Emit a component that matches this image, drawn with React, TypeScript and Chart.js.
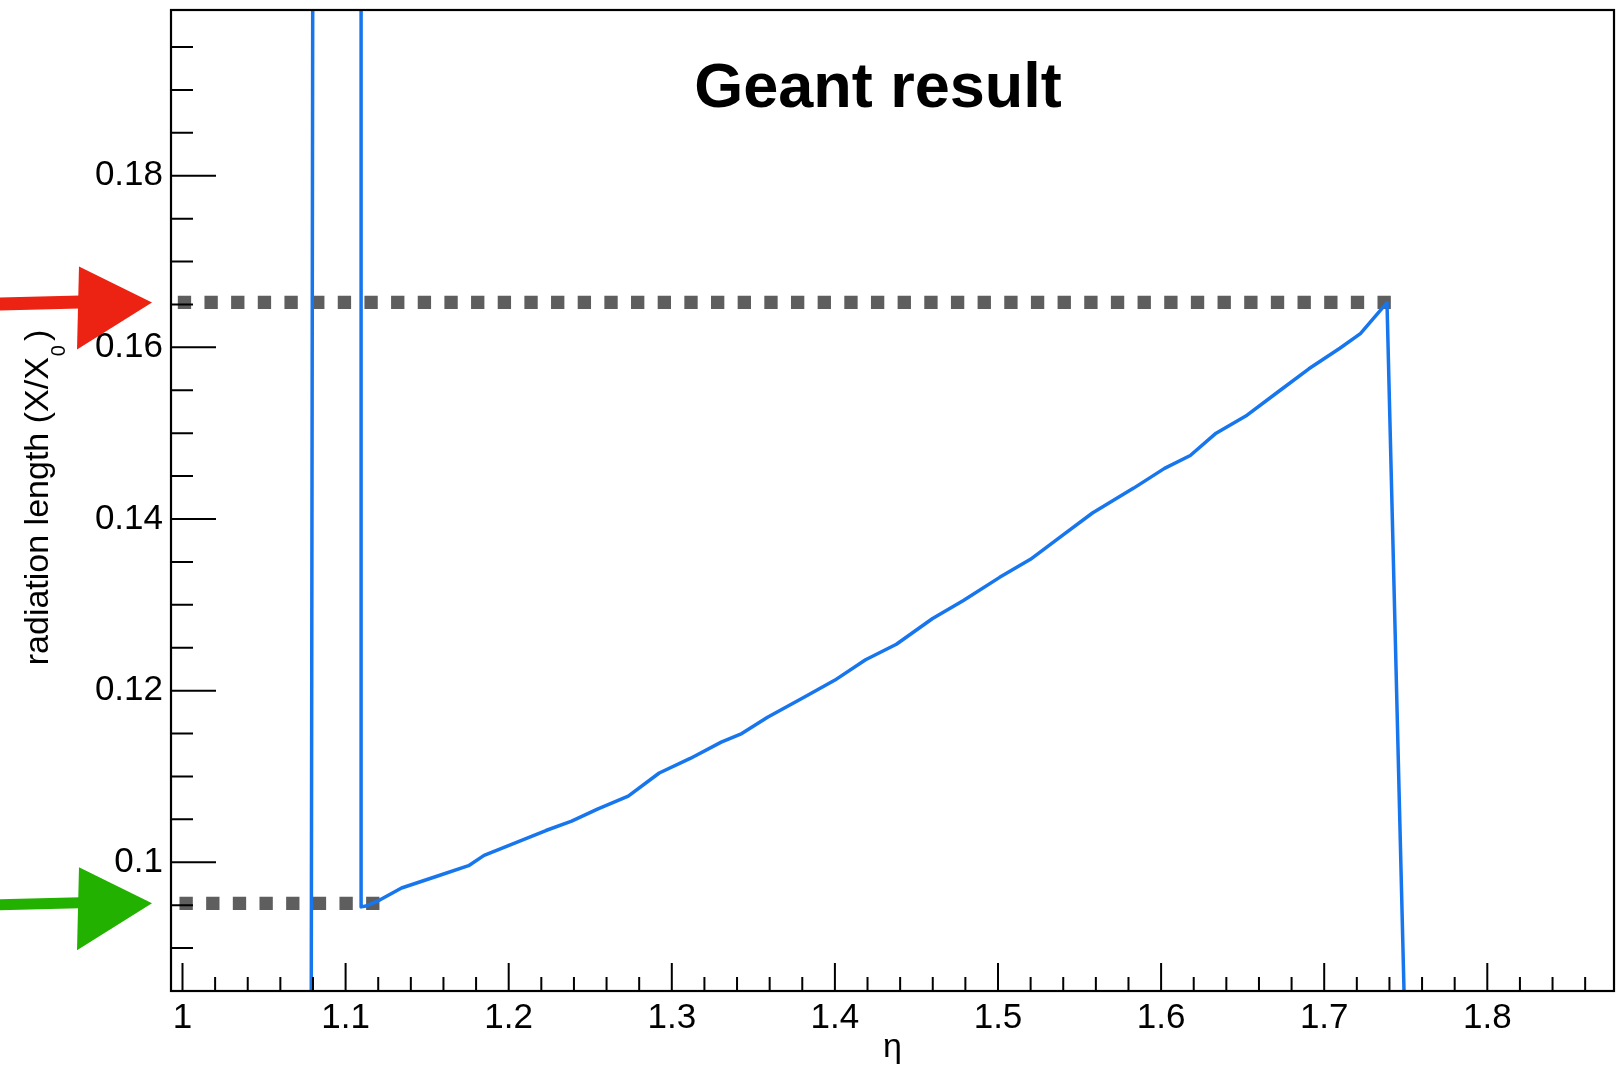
import React, { useEffect, useRef } from 'react';
import { Chart, registerables } from 'chart.js';

Chart.register(...registerables);

// ---- data ----
const etaValues = [
  0.99, 1.0783, 1.0803, 1.1095, 1.1095, 1.1125, 1.1209, 1.1343, 1.1564, 1.1754,
  1.1849, 1.2006, 1.2228, 1.2386, 1.2544, 1.2733, 1.2923, 1.3113, 1.3303, 1.3429,
  1.3587, 1.3808, 1.3998, 1.4188, 1.4377, 1.4599, 1.4788, 1.501, 1.5199, 1.5389,
  1.5579, 1.5832, 1.6021, 1.6179, 1.6337, 1.6527, 1.6716, 1.6906, 1.7096, 1.7222,
  1.7385, 1.76, 1.87,
];
const radLengthValues = [
  0.0, 0.0, 0.26, 0.26, 0.0948, 0.0949, 0.0956, 0.097, 0.0984, 0.0996,
  0.1008, 0.102, 0.1037, 0.1048, 0.1062, 0.1077, 0.1104, 0.1121, 0.114, 0.115,
  0.1169, 0.1192, 0.1212, 0.1236, 0.1254, 0.1284, 0.1305, 0.1332, 0.1353, 0.138,
  0.1407, 0.1436, 0.1459, 0.1474, 0.15, 0.1521, 0.1548, 0.1575, 0.1599, 0.1616,
  0.1652, 0.0, 0.0,
];
const upperRefEta = [0.99712, 1.7415];
const upperRefValue = [0.16524, 0.16524];
const lowerRefEta = [0.99816, 1.12086];
const lowerRefValue = [0.09522, 0.09522];

const xTickValues = [1, 1.1, 1.2, 1.3, 1.4, 1.5, 1.6, 1.7, 1.8];
const yTickValues = [0.1, 0.12, 0.14, 0.16, 0.18];

const X_MIN = 0.99295;
const X_MAX = 1.87768;
const Y_MIN = 0.085;
const Y_MAX = 0.19931;

const TITLE = 'Geant result';
const X_TITLE = 'η';
const Y_TITLE_MAIN = 'radiation length (X/X';
const Y_TITLE_SUB = '0';
const Y_TITLE_END = ')';

const FAMILY = '"Liberation Sans", Arial, Helvetica, sans-serif';
const BLUE = '#1776ee';
const GRAY = '#5e5e5e';

const fmt = (v: number | string) => String(parseFloat(Number(v).toFixed(4)));

const decorPlugin = {
  id: 'decor',
  afterDatasetsDraw(chart: any) {
    const { ctx, chartArea: a, scales } = chart;
    const x = scales.x;
    const y = scales.y;
    ctx.save();
    ctx.strokeStyle = '#000';
    ctx.lineWidth = 2;
    ctx.beginPath();
    // x ticks (every 0.02)
    for (let i = 0; i <= 43; i++) {
      const v = 1 + i * 0.02;
      const px = x.getPixelForValue(v);
      if (px < a.left || px > a.right) continue;
      const major = xTickValues.some((t) => Math.abs(t - v) < 1e-6);
      ctx.moveTo(px, a.bottom);
      ctx.lineTo(px, a.bottom - (major ? 28 : 14));
    }
    // y ticks (every 0.005)
    for (let i = 1; i <= 22; i++) {
      const v = 0.085 + i * 0.005;
      const py = y.getPixelForValue(v);
      if (py < a.top || py > a.bottom) continue;
      const major = yTickValues.some((t) => Math.abs(t - v) < 1e-6);
      ctx.moveTo(a.left, py);
      ctx.lineTo(a.left + (major ? 45 : 22), py);
    }
    ctx.stroke();
    ctx.lineWidth = 2.2;
    ctx.strokeRect(a.left, a.top, a.right - a.left, a.bottom - a.top);
    ctx.restore();
  },
  afterDraw(chart: any) {
    const { ctx, scales } = chart;
    const y = scales.y;
    ctx.save();
    // title
    ctx.fillStyle = '#000';
    ctx.font = `bold 63px ${FAMILY}`;
    ctx.textAlign = 'center';
    ctx.textBaseline = 'alphabetic';
    ctx.fillText(TITLE, 878, 107);

    // y-axis title (rotated) with subscript
    ctx.save();
    ctx.translate(48, 497.5);
    ctx.rotate(-Math.PI / 2);
    ctx.textAlign = 'left';
    ctx.font = `34px ${FAMILY}`;
    const wMain = ctx.measureText(Y_TITLE_MAIN).width;
    ctx.font = `20px ${FAMILY}`;
    const wSub = ctx.measureText(Y_TITLE_SUB).width;
    ctx.font = `34px ${FAMILY}`;
    const wEnd = ctx.measureText(Y_TITLE_END).width;
    const total = wMain + wSub + 5 + wEnd;
    const sx = -total / 2;
    ctx.fillText(Y_TITLE_MAIN, sx, 0);
    ctx.font = `20px ${FAMILY}`;
    ctx.fillText(Y_TITLE_SUB, sx + wMain + 1, 17);
    ctx.font = `34px ${FAMILY}`;
    ctx.fillText(Y_TITLE_END, sx + wMain + wSub + 5, 0);
    ctx.restore();

    // arrows marking the two reference levels
    const drawArrow = (yc: number, color: string, half: number) => {
      ctx.fillStyle = color;
      ctx.beginPath();
      ctx.moveTo(0, yc - half + 1);
      ctx.lineTo(80, yc - half - 1);
      ctx.lineTo(80, yc + half);
      ctx.lineTo(0, yc + half + 2);
      ctx.closePath();
      ctx.fill();
      ctx.beginPath();
      ctx.moveTo(79, yc - 36);
      ctx.lineTo(152, yc);
      ctx.lineTo(77, yc + 47);
      ctx.closePath();
      ctx.fill();
    };
    drawArrow(y.getPixelForValue(upperRefValue[0]), '#ec2312', 6);
    drawArrow(y.getPixelForValue(lowerRefValue[0]), '#23b100', 5);
    ctx.restore();
  },
};

export default function App() {
  const ref = useRef<HTMLCanvasElement | null>(null);
  useEffect(() => {
    if (!ref.current) return;
    const chart = new Chart(ref.current, {
      type: 'scatter',
      data: {
        datasets: [
          {
            data: etaValues.map((e, i) => ({ x: e, y: radLengthValues[i] })),
            showLine: true,
            borderColor: BLUE,
            backgroundColor: BLUE,
            borderWidth: 3.5,
            borderJoinStyle: 'round',
            pointRadius: 0,
            tension: 0,
            clip: 0,
            order: 0,
          },
          {
            data: upperRefEta.map((e, i) => ({ x: e, y: upperRefValue[i] })),
            showLine: true,
            borderColor: GRAY,
            borderWidth: 13.33,
            borderDash: [13.33, 13.33],
            borderCapStyle: 'butt',
            pointRadius: 0,
            order: 1,
          },
          {
            data: lowerRefEta.map((e, i) => ({ x: e, y: lowerRefValue[i] })),
            showLine: true,
            borderColor: GRAY,
            borderWidth: 13.33,
            borderDash: [13.33, 13.33],
            borderCapStyle: 'butt',
            pointRadius: 0,
            order: 1,
          },
        ],
      } as any,
      options: {
        animation: false,
        responsive: false,
        devicePixelRatio: 1,
        events: [],
        layout: { padding: { top: 10, right: 2, left: 0, bottom: 0 } },
        plugins: {
          legend: { display: false },
          tooltip: { enabled: false },
          title: { display: false },
        },
        scales: {
          x: {
            type: 'linear',
            min: X_MIN,
            max: X_MAX,
            grid: { display: false, drawTicks: false },
            border: { display: false },
            ticks: {
              color: '#000',
              font: { family: FAMILY, size: 35 },
              padding: 6,
              autoSkip: false,
              maxRotation: 0,
              callback: (v: any) => fmt(v),
            },
            title: {
              display: true,
              text: X_TITLE,
              color: '#000',
              font: { family: FAMILY, size: 34 },
              padding: { top: 0, bottom: 0 },
            },
            afterBuildTicks: (s: any) => {
              s.ticks = xTickValues.map((v) => ({ value: v }));
            },
            afterFit: (s: any) => {
              s.height = 77;
              s.paddingLeft = 0;
              s.paddingRight = 0;
            },
          },
          y: {
            type: 'linear',
            min: Y_MIN,
            max: Y_MAX,
            grid: { display: false, drawTicks: false },
            border: { display: false },
            ticks: {
              color: '#000',
              font: { family: FAMILY, size: 35 },
              padding: 8,
              autoSkip: false,
              callback: (v: any) => fmt(v),
            },
            afterBuildTicks: (s: any) => {
              s.ticks = yTickValues.map((v) => ({ value: v }));
            },
            afterFit: (s: any) => {
              s.width = 171;
              s.paddingTop = 0;
              s.paddingBottom = 0;
            },
          },
        },
      } as any,
      plugins: [decorPlugin],
    });
    return () => chart.destroy();
  }, []);

  return (
    <div style={{ position: 'fixed', left: 0, top: 0, width: 1616, height: 1068, background: '#fff' }}>
      <canvas ref={ref} width={1616} height={1068} style={{ display: 'block' }} />
    </div>
  );
}
